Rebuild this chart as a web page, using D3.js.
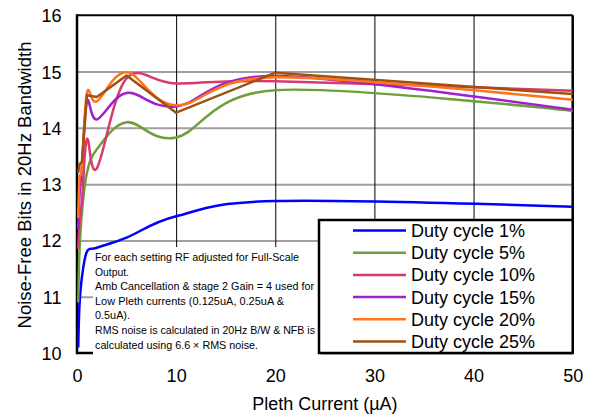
<!DOCTYPE html>
<html>
<head>
<meta charset="utf-8">
<script src="https://cdn.jsdelivr.net/npm/d3@7"></script>
<style>
  html, body { margin: 0; padding: 0; background: #fff; }
  svg { display: block; }
  text { font-family: "Liberation Sans", Arial, sans-serif; fill: #000; }
</style>
</head>
<body>
<svg id="chart" width="590" height="414"></svg>
<script>
// ---------- data ----------
const xValues = [0.125, 0.25, 0.5, 1, 2, 5, 10, 20, 50];
const seriesNames = ["Duty cycle 1%", "Duty cycle 5%", "Duty cycle 10%", "Duty cycle 15%", "Duty cycle 20%", "Duty cycle 25%"];
const duty1  = [10.10, 10.85, 11.35, 11.80, 11.87, 12.05, 12.43, 12.70, 12.60];
const duty5  = [10.90, 11.80, 12.50, 13.20, 13.62, 14.10, 13.83, 14.67, 14.30];
const duty10 = [11.85, 12.30, 12.70, 13.80, 13.28, 14.88, 14.79, 14.83, 14.66];
const duty15 = [12.20, 12.80, 13.30, 14.47, 14.15, 14.62, 14.38, 14.92, 14.32];
const duty20 = [12.40, 13.10, 13.30, 14.62, 14.47, 14.99, 14.40, 14.90, 14.50];
const duty25 = [13.20, 13.35, 13.40, 14.58, 14.55, 14.93, 14.27, 14.98, 14.60];
const xTicks = [0, 10, 20, 30, 40, 50];
const yTicks = [10, 11, 12, 13, 14, 15, 16];
const xTitle = "Pleth Current (µA)";
const yTitle = "Noise-Free Bits in 20Hz Bandwidth";
const noteLines = [
  "For each setting RF adjusted for Full-Scale",
  "Output.",
  "Amb Cancellation & stage 2 Gain = 4 used for",
  "Low Pleth currents (0.125uA, 0.25uA &",
  "0.5uA).",
  "RMS noise is calculated in 20Hz B/W & NFB is",
  "calculated using 6.6 × RMS noise."
];

// ---------- styles ----------
const colors = ["#0000ff", "#6f9f3a", "#d63a6e", "#a020d0", "#ff7418", "#a0500f"];
const smooth = [true, true, true, true, true, false];
const noteWidths = [204, 34, 219, 189, 35, 220, 163];

const svg = d3.select("#chart");
const L = 77, R = 572.7, T = 15.3, B = 353;
const x = d3.scaleLinear().domain([0, 50]).range([L, R]);
const y = d3.scaleLinear().domain([10, 16]).range([B, T]);

// horizontal gridlines (gray)
svg.append("g")
  .attr("transform", `translate(${L},0)`)
  .call(d3.axisLeft(y).tickValues(yTicks.filter(v => v > 10 && v < 16)).tickSize(-(R - L)).tickFormat(""))
  .call(g => g.select(".domain").remove())
  .call(g => g.selectAll("line").attr("stroke", "#a0a0a0").attr("stroke-width", 2));

// vertical gridlines (black)
svg.append("g")
  .attr("transform", `translate(0,${B})`)
  .call(d3.axisBottom(x).tickValues(xTicks.filter(v => v > 0 && v < 50)).tickSize(-(B - T)).tickFormat(""))
  .call(g => g.select(".domain").remove())
  .call(g => g.selectAll("line").attr("stroke", "#000").attr("stroke-width", 1));

// frame
svg.append("line").attr("x1", L).attr("x2", R).attr("y1", T).attr("y2", T).attr("stroke", "#000").attr("stroke-width", 2);
svg.append("line").attr("x1", R).attr("x2", R).attr("y1", T).attr("y2", B).attr("stroke", "#000").attr("stroke-width", 2.5);
svg.append("line").attr("x1", L).attr("x2", R).attr("y1", B).attr("y2", B).attr("stroke", "#000").attr("stroke-width", 2.5);
svg.append("line").attr("x1", L).attr("x2", L).attr("y1", T - 1).attr("y2", B + 1.2).attr("stroke", "#000").attr("stroke-width", 2.5);

// tick labels
svg.append("g")
  .attr("transform", `translate(${L},0)`)
  .call(d3.axisLeft(y).tickValues(yTicks).tickSize(0).tickPadding(15.5).tickFormat(d3.format("d")))
  .call(g => g.select(".domain").remove())
  .call(g => g.selectAll("text").attr("font-size", 18).attr("font-family", "Liberation Sans, Arial, sans-serif").attr("fill", "#000").attr("dy", "0.36em"));

svg.append("g")
  .attr("transform", `translate(0,${B})`)
  .call(d3.axisBottom(x).tickValues(xTicks).tickSize(0).tickPadding(16).tickFormat(d3.format("d")))
  .call(g => g.select(".domain").remove())
  .call(g => g.selectAll("text").attr("font-size", 18).attr("font-family", "Liberation Sans, Arial, sans-serif").attr("fill", "#000"));

// axis titles
svg.append("text").attr("x", (L + R) / 2).attr("y", 410).attr("text-anchor", "middle")
  .attr("font-size", 18).text(xTitle);
svg.append("text").attr("transform", `translate(31,185) rotate(-90)`).attr("text-anchor", "middle")
  .attr("font-size", 18.5).text(yTitle);

// annotation box
svg.append("rect").attr("x", 93).attr("y", 247).attr("width", 228).attr("height", 112).attr("fill", "#fff");
const note = svg.append("g");
noteLines.forEach((t, i) => {
  note.append("text")
    .attr("x", 95).attr("y", 261 + i * 14.6)
    .attr("font-family", "Open Sans, Noto Sans, sans-serif")
    .attr("font-size", 11.5)
    .attr("fill", "#222")
    .attr("textLength", noteWidths[i]).attr("lengthAdjust", "spacingAndGlyphs")
    .text(t);
});

// legend
const lg = svg.append("g");
lg.append("rect").attr("x", 319).attr("y", 220).attr("width", R - 319).attr("height", B - 220)
  .attr("fill", "#fff").attr("stroke", "#000").attr("stroke-width", 2.5);
seriesNames.forEach((name, i) => {
  const cy = 230.5 + i * 22.2;
  lg.append("line").attr("x1", 353).attr("x2", 406).attr("y1", cy).attr("y2", cy)
    .attr("stroke", colors[i]).attr("stroke-width", 2.5);
  lg.append("text").attr("x", 411).attr("y", cy + 6.4).attr("font-size", 18).text(name);
});

// series
const allSeries = [duty1, duty5, duty10, duty15, duty20, duty25];
allSeries.forEach((vals, i) => {
  const pts = xValues.map((xv, j) => [xv, vals[j]]);
  const line = d3.line()
    .x(d => x(d[0])).y(d => y(d[1]))
    .curve(smooth[i] ? d3.curveCardinal.tension(0) : d3.curveLinear);
  svg.append("path").datum(pts)
    .attr("d", line)
    .attr("fill", "none")
    .attr("stroke", colors[i])
    .attr("stroke-width", 2.5)
    .attr("stroke-linejoin", "round");
});
</script>
</body>
</html>
